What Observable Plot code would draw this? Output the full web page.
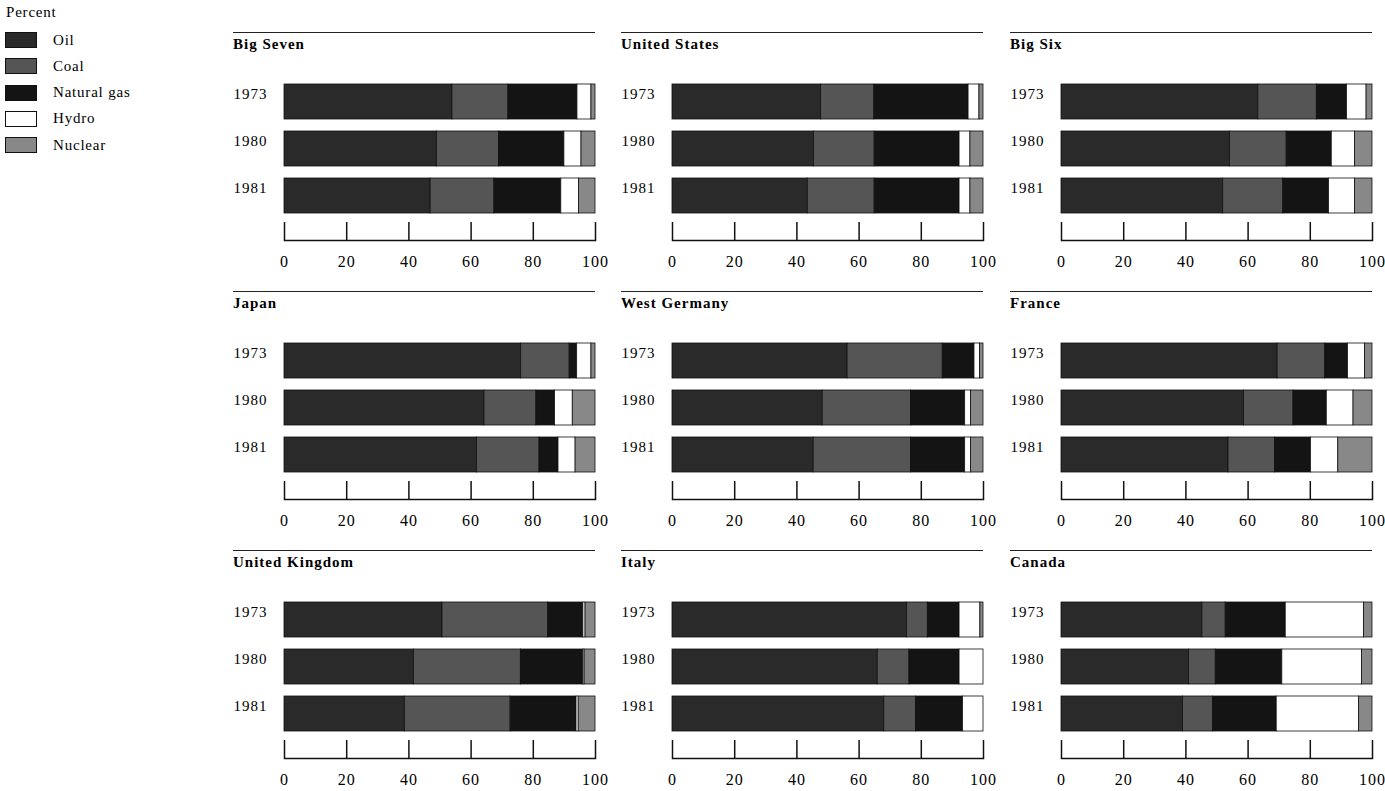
<!DOCTYPE html>
<html><head><meta charset="utf-8">
<script src="https://cdn.jsdelivr.net/npm/d3@7"></script>
<script src="https://cdn.jsdelivr.net/npm/@observablehq/plot@0.6"></script>
<style>
body{margin:0;background:#fff;font-family:"Liberation Serif",serif;color:#000;}
#root{position:relative;width:1385px;height:791px;overflow:hidden;}
.rule{position:absolute;height:0;border-top:1.3px solid #222;}
.title{position:absolute;font-weight:bold;font-size:15px;letter-spacing:1px;line-height:15px;white-space:nowrap;}
.chart{position:absolute;}
.chart svg{overflow:visible;max-width:none !important;}
.chart svg text{letter-spacing:1px;}
.leg{position:absolute;font-size:15px;letter-spacing:0.8px;line-height:15px;white-space:nowrap;}
.sw{position:absolute;width:32px;height:16px;box-sizing:border-box;border:1px solid #111;}
</style></head><body><div id="root"></div>
<script>
// ---- data ----
const panels = ["Big Seven","United States","Big Six","Japan","West Germany","France","United Kingdom","Italy","Canada"];
const years = ["1973","1980","1981"];
const sources = ["Oil","Coal","Natural gas","Hydro","Nuclear"];
const sourceColors = ["#2a2a2a","#555555","#141414","#ffffff","#888888"];
const tickValues = [0,20,40,60,80,100];
// shares per year: [Oil, Coal, Natural gas, Hydro, Nuclear]
const bigSeven     = [[54.0,18.0,22.2,4.5,1.3],[49.0,20.0,21.0,5.5,4.5],[47.0,20.5,21.5,5.7,5.3]];
const unitedStates = [[47.8,17.1,30.3,3.5,1.3],[45.5,19.5,27.3,3.5,4.2],[43.5,21.5,27.3,3.5,4.2]];
const bigSix       = [[63.3,18.8,9.7,6.3,1.9],[54.2,18.2,14.5,7.5,5.6],[52.0,19.3,14.7,8.4,5.6]];
const japan        = [[76.1,15.6,2.4,4.6,1.3],[64.3,16.7,6.0,5.7,7.3],[61.9,20.1,6.1,5.5,6.4]];
const westGermany  = [[56.3,30.6,10.2,1.8,1.1],[48.3,28.4,17.4,1.9,4.0],[45.4,31.3,17.4,1.9,4.0]];
const france       = [[69.5,15.3,7.3,5.5,2.4],[58.7,15.9,10.7,8.6,6.1],[53.7,15.0,11.5,8.8,11.0]];
const unitedKingdom= [[50.8,34.0,11.3,0.7,3.2],[41.6,34.4,20.1,0.4,3.5],[38.7,34.0,21.2,0.7,5.4]];
const italy        = [[75.4,6.7,10.2,6.7,1.0],[66.0,10.2,16.1,7.7,0.0],[68.1,10.2,15.1,6.6,0.0]];
const canada       = [[45.3,7.5,19.3,25.2,2.7],[41.0,8.6,21.4,25.6,3.4],[39.1,9.6,20.5,26.5,4.3]];
const panelShares = [bigSeven,unitedStates,bigSix,japan,westGermany,france,unitedKingdom,italy,canada];

// ---- layout ----
const root = document.getElementById("root");
const colLeft = [232.5, 620.5, 1009.5];
const rowTop = [32, 290.5, 550];

// legend
const pct = document.createElement("div");
pct.className = "leg"; pct.textContent = "Percent";
pct.style.left = "6px"; pct.style.top = "5px";
root.appendChild(pct);
sources.forEach((s, i) => {
  const top = 32 + i * 26.3;
  const sw = document.createElement("div");
  sw.className = "sw"; sw.style.left = "5px"; sw.style.top = top + "px";
  sw.style.background = sourceColors[i];
  root.appendChild(sw);
  const lb = document.createElement("div");
  lb.className = "leg"; lb.textContent = s;
  lb.style.left = "53px"; lb.style.top = (top + 0.5) + "px";
  root.appendChild(lb);
});

panels.forEach((name, p) => {
  const L = colLeft[p % 3], R = rowTop[Math.floor(p / 3)];
  const rule = document.createElement("div");
  rule.className = "rule";
  rule.style.left = L + "px"; rule.style.top = R + "px"; rule.style.width = "362px";
  root.appendChild(rule);
  const t = document.createElement("div");
  t.className = "title"; t.textContent = name;
  t.style.left = (L + 0.5) + "px"; t.style.top = (R + 5) + "px";
  root.appendChild(t);

  const rows = [];
  years.forEach((y, yi) => {
    sources.forEach((s, si) => {
      const v = panelShares[p][yi][si];
      if (v > 0) rows.push({year: y, source: s, value: v});
    });
  });

  const chart = Plot.plot({
    width: 375, height: 206,
    marginLeft: 51, marginRight: 13, marginTop: 0, marginBottom: 38,
    style: {fontFamily: "Liberation Serif", fontSize: "15px", color: "#000", background: "transparent", overflow: "visible"},
    x: {domain: [0, 100], axis: null},
    y: {domain: years, range: [11.7, 141.7], paddingInner: 0.25, paddingOuter: 0, axis: null},
    color: {domain: sources, range: sourceColors},
    marks: [
      Plot.barX(rows, {x: "value", y: "year", fill: "source", stroke: "#111", strokeWidth: 0.8}),
      Plot.ruleX(tickValues, {x: d => d, insetTop: 150, stroke: "#111", strokeWidth: 1.5}),
      Plot.frame({anchor: "bottom", stroke: "#111", strokeWidth: 1.5}),
      Plot.axisX({ticks: tickValues, tickSize: 0, tickPadding: 15, fontSize: 16, label: null}),
      Plot.axisY({tickSize: 0, tickPadding: 17, dy: -8, fontSize: 15, label: null})
    ]
  });
  const wrap = document.createElement("div");
  wrap.className = "chart";
  wrap.style.left = L + "px"; wrap.style.top = (R + 40) + "px";
  wrap.appendChild(chart);
  root.appendChild(wrap);
});
</script></body></html>
